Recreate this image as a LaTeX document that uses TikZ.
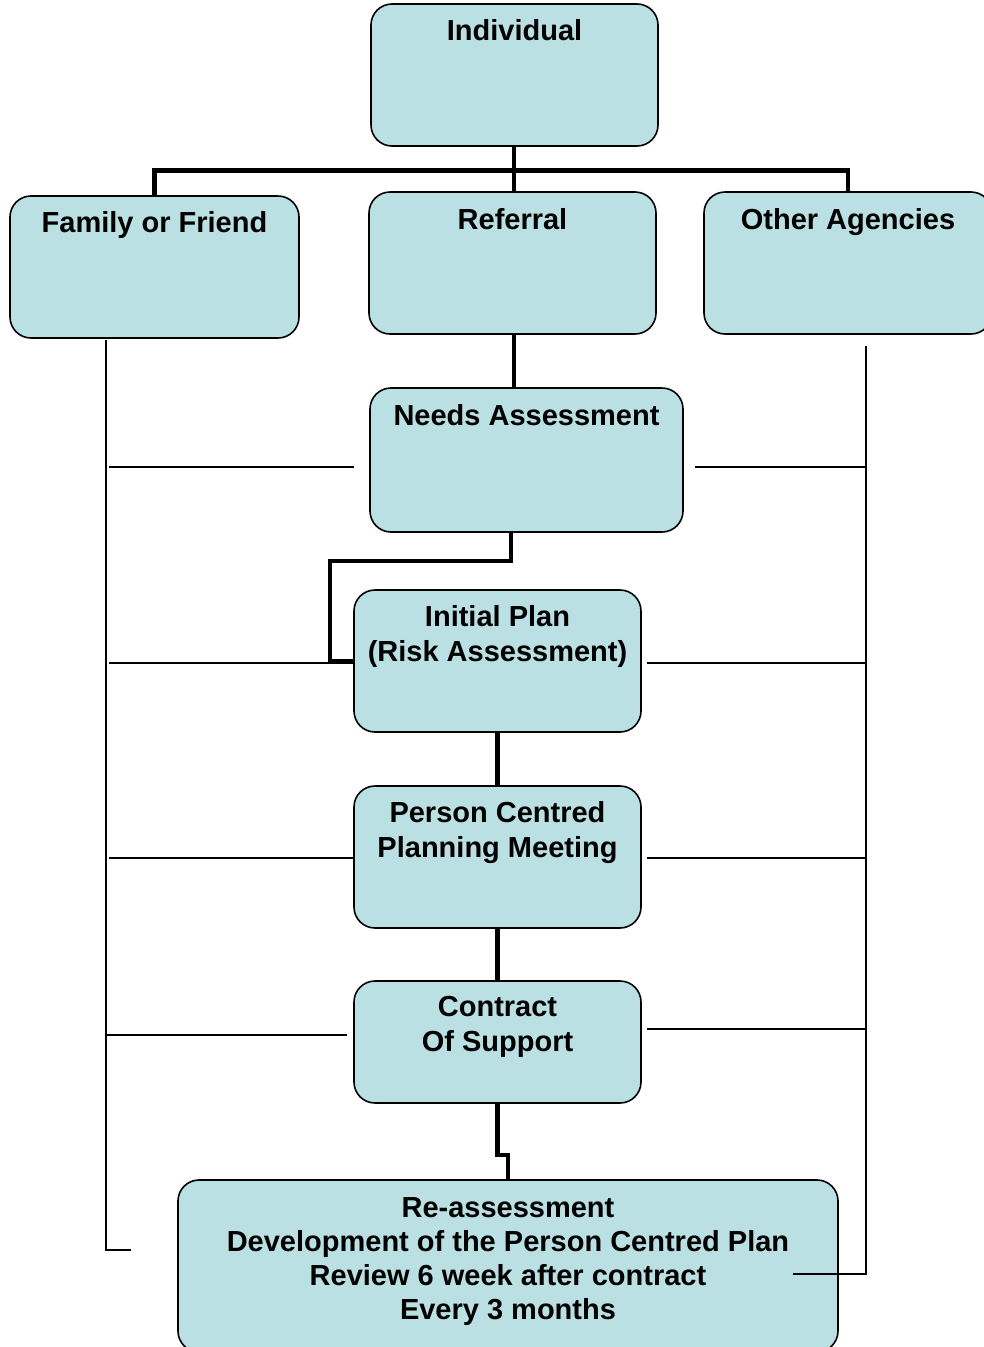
\documentclass[tikz,border=0pt]{standalone}
\usepackage{fontspec}
\setmainfont{Liberation Sans}
\definecolor{boxblue}{RGB}{186,224,227}
\newcommand\boxtxt[4]{\parbox[c][#2pt][t]{#1pt}{\centering\rule{0pt}{#3pt}#4}}
\tikzset{
  box/.style={draw=black, line width=1.6pt, fill=boxblue, rounded corners=21pt,
    inner sep=0pt, outer sep=0pt, font=\bfseries\fontsize{29}{35}\selectfont},
  flow/.style={line width=4.8pt, draw=black},
  tie/.style={line width=1.4pt, draw=black}
}
\begin{document}
\begin{tikzpicture}[x=1pt,y=-1pt]
\useasboundingbox (0,0) rectangle (984,1347);
% boxes
\node[box] (ind)  at (514.5,75)   {\boxtxt{287}{142}{36}{Individual}};
\node[box] (fam)  at (154.5,267)  {\boxtxt{289}{142}{36}{Family or Friend}};
\node[box] (ref)  at (512.5,263)  {\boxtxt{287}{142}{37}{Referral}};
\node[box] (oth)  at (848,263)    {\boxtxt{288}{142}{37}{Other Agencies}};
\node[box] (need) at (526.5,460)  {\boxtxt{313}{144}{37}{Needs Assessment}};
\node[box] (init) at (497.5,661)  {\boxtxt{287}{142}{36}{Initial Plan\\(Risk Assessment)}};
\node[box] (pcp)  at (497.5,857)  {\boxtxt{287}{142}{36}{Person Centred\\Planning Meeting}};
\node[box] (con)  at (497.5,1042) {\boxtxt{287}{122}{35}{Contract\\Of Support}};
\node[box, font=\bfseries\fontsize{29}{34}\selectfont] (rea) at (508,1266)
  {\boxtxt{660}{172}{37}{Re-assessment\\Development of the Person Centred Plan\\Review 6 week after contract\\Every 3 months}};
% thick flow connectors
\coordinate (bar) at (514,170.5);
\draw[flow] (ind.south -| bar) -- (bar);
\draw[flow] (bar) -| (fam.north);
\draw[flow] (bar) -| (oth.north);
\draw[flow] (bar) -- (bar |- ref.north);
\draw[flow] (ref.south -| bar) -- (bar |- need.north);
\coordinate (n1) at (511,561);
\coordinate (n2) at (330,561);
\draw[flow] (n1 |- need.south) -- (n1) -- (n2) |- (init.west);
\draw[flow] (init.south) -- (pcp.north);
\draw[flow] (pcp.south) -- (con.north);
\coordinate (c1) at (497.5,1155);
\draw[flow] (con.south) -- (c1) -| (rea.north);
% thin left tie lines
\coordinate (lt) at (106,340);
\coordinate (lb) at (106,1250);
\coordinate (le) at (131,1250);
\draw[tie] (lt) -- (lb) -- (le);
\coordinate (l1) at (109,467);  \coordinate (l1e) at (354,467);
\coordinate (l2) at (109,663);
\coordinate (l3) at (109,858);
\coordinate (l4) at (106,1035); \coordinate (l4e) at (347,1035);
\draw[tie] (l1) -- (l1e);
\draw[tie] (l2) -- (l2 -| init.west);
\draw[tie] (l3) -- (l3 -| pcp.west);
\draw[tie] (l4) -- (l4e);
% thin right tie lines
\coordinate (rt) at (866,346);
\coordinate (rb) at (866,1274);
\coordinate (re) at (793,1274);
\draw[tie] (rt) -- (rb) -- (re);
\coordinate (r1) at (695,467);
\coordinate (r2) at (647,663);
\coordinate (r3) at (647,858);
\coordinate (r4) at (647,1029);
\draw[tie] (r1) -- (r1 -| rt);
\draw[tie] (r2) -- (r2 -| rt);
\draw[tie] (r3) -- (r3 -| rt);
\draw[tie] (r4) -- (r4 -| rt);
\end{tikzpicture}
\end{document}
